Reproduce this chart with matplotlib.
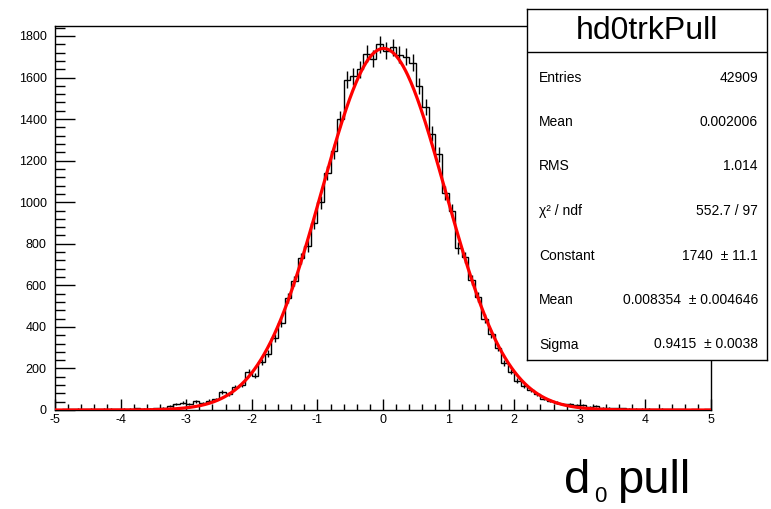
import numpy as np
import matplotlib as mpl
import matplotlib.pyplot as plt
from matplotlib.ticker import MultipleLocator

mpl.rcParams["font.family"] = ["Liberation Sans", "DejaVu Sans"]
mpl.rcParams["axes.unicode_minus"] = False

# histogram: 100 bins from -5 to 5 (counts)
bin_edges = np.linspace(-5, 5, 101)
counts = [
    2, 4, 3, 5, 4, 6, 3, 5, 6, 4,
    7, 5, 8, 6, 7, 9, 10, 18, 28, 35,
    30, 42, 33, 45, 52, 85, 78, 110, 120, 185,
    165, 230, 270, 345, 420, 540, 620, 730, 790, 900,
    1000, 1140, 1245, 1400, 1590, 1605, 1640, 1715, 1690, 1760,
    1730, 1745, 1710, 1700, 1670, 1560, 1460, 1330, 1230, 1045,
    960, 780, 735, 625, 545, 440, 365, 300, 225, 185,
    140, 115, 95, 75, 55, 45, 35, 28, 30, 25,
    22, 15, 18, 12, 10, 8, 9, 6, 7, 5,
    6, 4, 5, 3, 4, 3, 2, 4, 2, 3,
]

# gaussian fit parameters (from the stats box)
fit_const = 1740
fit_mean = 0.008354
fit_sigma = 0.9415

# stats box
stat_title = "hd0trkPull"
stat_names = ["Entries", "Mean", "RMS", "χ² / ndf", "Constant", "Mean", "Sigma"]
stat_values = ["42909", "0.002006", "1.014", "552.7 / 97", "1740  ± 11.1",
               "0.008354  ± 0.004646", "0.9415  ± 0.0038"]

W, H = 771, 509
fig = plt.figure(figsize=(W / 100, H / 100), dpi=100)

# main axes (pixel frame: x 55..711, y 26..410)
ax = fig.add_axes([55 / W, (H - 410) / H, 656 / W, 384 / H])

counts = np.array(counts, dtype=float)
centers = 0.5 * (bin_edges[:-1] + bin_edges[1:])
ax.stairs(counts, bin_edges, color="black", lw=1.0)
ax.errorbar(centers, counts, yerr=np.sqrt(counts), fmt="none",
            ecolor="black", elinewidth=1.0, capsize=0)

xf = np.linspace(-5, 5, 600)
yf = fit_const * np.exp(-0.5 * ((xf - fit_mean) / fit_sigma) ** 2)
ax.plot(xf, yf, color="red", lw=2.3, zorder=5)

ax.set_xlim(-5, 5)
ax.set_ylim(0, 1848)
ax.xaxis.set_major_locator(MultipleLocator(1))
ax.xaxis.set_minor_locator(MultipleLocator(0.2))
ax.yaxis.set_major_locator(MultipleLocator(200))
ax.yaxis.set_minor_locator(MultipleLocator(40))
ax.tick_params(axis="both", which="both", direction="in", colors="black",
               labelsize=9, width=1)
ax.tick_params(axis="y", which="major", length=14.5, pad=6)
ax.tick_params(axis="y", which="minor", length=7)
ax.tick_params(axis="x", which="major", length=8, pad=3)
ax.tick_params(axis="x", which="minor", length=4)
for s in ax.spines.values():
    s.set_linewidth(1)
    s.set_color("black")

# stats box (pixel frame: x 527..767, y 9..360)
bx = fig.add_axes([527 / W, (H - 360) / H, 240 / W, 351 / H])
bx.set_xlim(0, 240)
bx.set_ylim(351, 0)
bx.set_xticks([])
bx.set_yticks([])
bx.set_facecolor("white")
for s in bx.spines.values():
    s.set_linewidth(1)
bx.axhline(43, color="black", lw=1)
bx.text(120, 22, stat_title, ha="center", va="center", fontsize=23)
for i, (n, v) in enumerate(zip(stat_names, stat_values)):
    y = 68.5 + 44.5 * i
    bx.text(12, y, n, ha="left", va="center", fontsize=10)
    bx.text(231, y, v, ha="right", va="center", fontsize=10)

# axis title "d0 pull"
fig.text(564 / W, (H - 493) / H, "d", fontsize=34, ha="left", va="baseline")
fig.text(594 / W, (H - 502) / H, "0", fontsize=16, ha="left", va="baseline")
fig.text(617 / W, (H - 493) / H, "pull", fontsize=34, ha="left", va="baseline")

fig.savefig("out.png", dpi=100)
